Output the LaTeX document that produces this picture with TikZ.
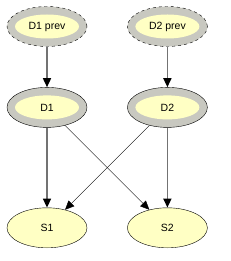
\documentclass[tikz,border=0pt]{standalone}
\usepackage{fontspec}
\setmainfont{Liberation Sans}
\usetikzlibrary{shapes.geometric, arrows.meta, positioning}
\definecolor{nodeyellow}{HTML}{FFFFC4}
\definecolor{ringgray}{HTML}{C8C8C0}

\begin{document}
\begin{tikzpicture}[x=1pt, y=-1pt, font=\fontsize{10.5}{12}\selectfont,
  state/.style={ellipse, draw, thin, fill=nodeyellow, minimum width=80pt, minimum height=40pt, inner sep=0pt},
  ringstate/.style={state, fill=ringgray, path picture={\fill[nodeyellow] (path picture bounding box.center) ellipse (32pt and 12pt);}},
  prevstate/.style={ringstate, dashed},
  flow/.style={-{Triangle[width=8pt, length=9pt, color=black]}, draw=black!55, line width=1.6pt},
  cross/.style={-{Triangle[width=8pt, length=9pt]}, thin}]
\useasboundingbox (0,0) rectangle (230,261);
\node[prevstate] (d1prev) at (47,26.5) {D1 prev};
\node[prevstate, right=40pt of d1prev] (d2prev) {D2 prev};
\node[ringstate, below=40.5pt of d1prev] (d1) {D1};
\node[ringstate, below=40.5pt of d2prev] (d2) {D2};
\node[state, below=80pt of d1] (s1) {S1};
\node[state, below=80pt of d2] (s2) {S2};
\draw[flow] (d1prev) -- (d1);
\draw[flow] (d2prev) -- (d2);
\draw[flow] (d1) -- (s1);
\draw[flow] (d2) -- (s2);
\draw[cross] (d1) -- (s2);
\draw[cross] (d2) -- (s1);
\end{tikzpicture}
\end{document}
